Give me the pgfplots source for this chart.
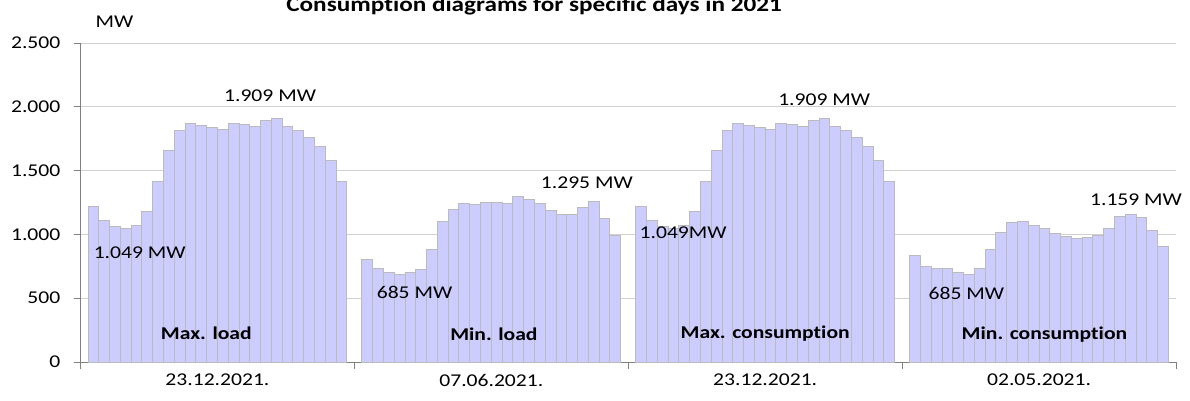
\documentclass[border=0pt]{standalone}
\usepackage{fontspec}
\setmainfont{Carlito}[FakeStretch=1.2, Ligatures=NoCommon]
\usepackage{pgfplots}
\usepackage{pgfplotstable}
\pgfplotsset{compat=1.18}
\definecolor{barfill}{HTML}{CCCCFF}
\definecolor{baredge}{HTML}{BBBBBB}
\definecolor{gridc}{HTML}{D0D0D0}
\definecolor{axisc}{HTML}{808080}
% 23.12.2021 - max load / max consumption
\pgfplotstableread{
h mw
0 1220
1 1110
2 1063
3 1049
4 1073
5 1179
6 1412
7 1656
8 1813
9 1872
10 1856
11 1837
12 1819
13 1869
14 1861
15 1845
16 1890
17 1909
18 1848
19 1811
20 1761
21 1685
22 1583
23 1412
}\gA
% 07.06.2021 - min load
\pgfplotstableread{
h mw
0 803
1 735
2 698
3 685
4 698
5 727
6 882
7 1102
8 1197
9 1239
10 1234
11 1247
12 1250
13 1239
14 1295
15 1273
16 1239
17 1186
18 1155
19 1155
20 1213
21 1255
22 1123
23 995
}\gB
% 23.12.2021 - max consumption
\pgfplotstableread{
h mw
0 1220
1 1110
2 1063
3 1049
4 1073
5 1179
6 1412
7 1656
8 1813
9 1872
10 1856
11 1837
12 1819
13 1869
14 1861
15 1845
16 1890
17 1909
18 1848
19 1811
20 1761
21 1685
22 1583
23 1412
}\gC
% 02.05.2021 - min consumption
\pgfplotstableread{
h mw
0 837
1 751
2 730
3 735
4 703
5 685
6 732
7 879
8 1016
9 1094
10 1100
11 1073
12 1045
13 1005
14 982
15 971
16 979
17 990
18 1045
19 1142
20 1159
21 1136
22 1031
23 903
}\gD
\begin{document}
\begin{tikzpicture}[font=\fontsize{18pt}{21pt}\selectfont]
\useasboundingbox (0,0) rectangle (1190pt,400pt);
\begin{axis}[
  at={(80.5pt,38pt)}, anchor=south west,
  scale only axis, width=1095.5pt, height=319pt,
  xmin=0, xmax=101.6, ymin=0, ymax=2500,
  axis x line*=bottom, axis y line*=left,
  axis line style={axisc, line width=1pt},
  ytick={0,500,1000,1500,2000,2500},
  ymajorgrids, grid style={gridc, line width=1pt},
  xtick={0,25.4,50.8,76.2,101.6}, xticklabels={,,,,},
  extra x ticks={12.7,38.1,63.5,88.9},
  extra x tick labels={23.12.2021.,07.06.2021.,23.12.2021.,02.05.2021.},
  extra x tick style={major tick length=0pt},
  tick align=outside, major tick length=6.5pt,
  tick style={axisc, line width=1pt},
  /pgf/number format/assume math mode=true,
  /pgf/number format/1000 sep={.},
  yticklabel style={inner sep=0pt, xshift=-13.5pt},
  xticklabel style={inner sep=0pt, yshift=-12pt},
  ybar, bar width=1,
  clip=false,
]
\pgfplotsset{mybar/.style={fill=barfill, draw=baredge, line width=1pt, bar shift=0pt}}
\addplot[mybar] table[x expr=\thisrow{h}+1.2, y=mw]{\gA};
\addplot[mybar] table[x expr=\thisrow{h}+26.6, y=mw]{\gB};
\addplot[mybar] table[x expr=\thisrow{h}+52.0, y=mw]{\gC};
\addplot[mybar] table[x expr=\thisrow{h}+77.4, y=mw]{\gD};
\begin{scope}[every node/.style={inner sep=0pt}]
\node at (axis cs:3.15,2665) {MW};
\node[anchor=base, font=\fontsize{21pt}{24pt}\selectfont\bfseries] at (axis cs:42.07,2743) {Consumption diagrams for specific days in 2021};
\node at (axis cs:17.58,2085) {1.909 MW};
\node at (axis cs:5.49,854) {1.049 MW};
\node[font=\fontsize{18pt}{21pt}\selectfont\bfseries] at (axis cs:11.67,222) {Max. load};
\node at (axis cs:30.98,549) {685 MW};
\node[font=\fontsize{18pt}{21pt}\selectfont\bfseries] at (axis cs:38.34,221) {Min. load};
\node at (axis cs:46.96,1403) {1.295 MW};
\node at (axis cs:55.89,1017) {1.049MW};
\node[font=\fontsize{18pt}{21pt}\selectfont\bfseries] at (axis cs:63.50,222) {Max. consumption};
\node at (axis cs:68.97,2053) {1.909 MW};
\node at (axis cs:82.16,535) {685 MW};
\node[font=\fontsize{18pt}{21pt}\selectfont\bfseries] at (axis cs:89.40,214) {Min. consumption};
\node at (axis cs:97.89,1272) {1.159 MW};
\end{scope}
\end{axis}
\end{tikzpicture}
\end{document}
